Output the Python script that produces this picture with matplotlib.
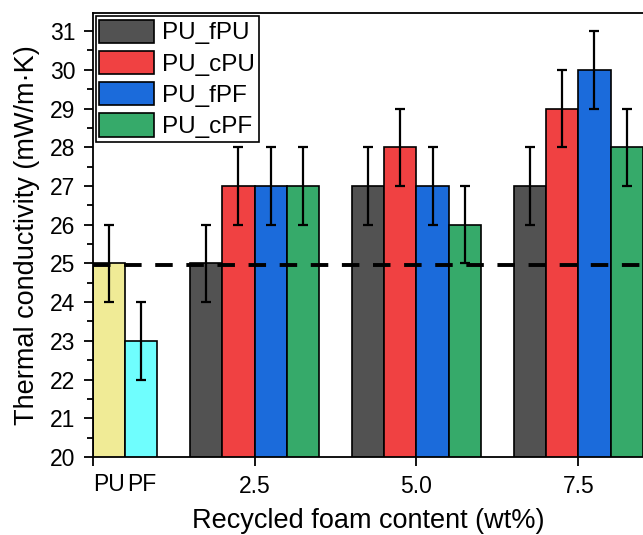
import matplotlib
matplotlib.use("Agg")
import matplotlib.pyplot as plt
import numpy as np

plt.rcParams["font.family"] = ["Liberation Sans", "DejaVu Sans"]

# reference foams (no recycled content)
ref_labels = ["PU", "PF"]
ref_values = [25, 23]
ref_errors = [1, 1]
ref_colors = ["#f0eb96", "#6ffefe"]

# recycled foam series
loadings = [2.5, 5.0, 7.5]
series = ["PU_fPU", "PU_cPU", "PU_fPF", "PU_cPF"]
values = {
    "PU_fPU": [25, 27, 27],
    "PU_cPU": [27, 28, 29],
    "PU_fPF": [27, 27, 30],
    "PU_cPF": [27, 26, 28],
}
errors = {
    "PU_fPU": [1, 1, 1],
    "PU_cPU": [1, 1, 1],
    "PU_fPF": [1, 1, 1],
    "PU_cPF": [1, 1, 1],
}
colors = ["#525252", "#f04142", "#1b6bdb", "#36aa6a"]
baseline = 24.95

fig = plt.figure(figsize=(6.43, 5.35), dpi=100)
ax = fig.add_axes([0.1442, 0.1458, 0.8558, 0.830])

width = 0.5
err_kw = dict(fmt="none", ecolor="black", elinewidth=1.6, capsize=3.3, capthick=1.6, zorder=4)

ref_x = np.array([0.25, 0.75])
ax.bar(ref_x, ref_values, width, color=ref_colors, edgecolor="black", linewidth=1.2, zorder=2)
ax.errorbar(ref_x, ref_values, yerr=ref_errors, **err_kw)

offsets = [-0.75, -0.25, 0.25, 0.75]
for name, off, c in zip(series, offsets, colors):
    x = np.array(loadings) + off
    ax.bar(x, values[name], width, color=c, edgecolor="black", linewidth=1.2, label=name, zorder=2)
    ax.errorbar(x, values[name], yerr=errors[name], **err_kw)

ax.axhline(baseline, color="black", linewidth=2.8, linestyle=(0, (4.5, 3.5)), zorder=3)

# the plot runs off the right edge, so no right spine is shown
ax.set_xlim(0, 8.5)
ax.set_ylim(20, 31.47)
ax.spines["right"].set_visible(False)
ax.set_xticks([0] + loadings)
ax.set_xticklabels(["", "2.5", "5.0", "7.5"])
for lab, x in zip(ref_labels, ref_x):
    ax.text(x, -0.035, lab, transform=ax.get_xaxis_transform(), ha="center", va="top", fontsize=16.5)
ax.set_yticks(range(20, 32))
ax.set_yticks(np.arange(20.5, 31.5, 1), minor=True)

ax.tick_params(axis="both", which="major", direction="out", length=6.5, width=1.3, labelsize=16.5)
ax.tick_params(axis="y", which="minor", direction="out", length=4, width=1.3)
ax.tick_params(axis="x", which="major", pad=6.5)
ax.tick_params(axis="y", which="major", pad=6)
for s in ax.spines.values():
    s.set_linewidth(1.3)

ax.set_xlabel("Recycled foam content (wt%)", fontsize=19.5, labelpad=7.5)
ax.set_ylabel("Thermal conductivity (mW/m\u00b7K)", fontsize=19.5, labelpad=7)

leg = ax.legend(loc="upper left", fontsize=17.5, frameon=True, fancybox=False, edgecolor="black",
                framealpha=1, handlelength=2.26, handleheight=1.1, labelspacing=0.26,
                handletextpad=0.33, borderpad=0.15, borderaxespad=0.12)
leg.get_frame().set_linewidth(1.2)

fig.savefig("out.png", dpi=100)
